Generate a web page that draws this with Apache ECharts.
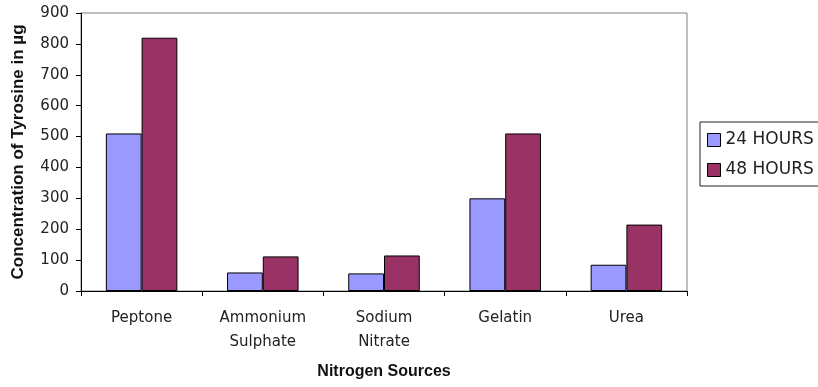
<!DOCTYPE html>
<html>
<head>
<meta charset="utf-8">
<script src="https://cdn.jsdelivr.net/npm/echarts@6/dist/echarts.min.js"></script>
<style>
  html, body { margin: 0; padding: 0; background: #fff; }
  #chart { width: 818px; height: 387px; }
</style>
</head>
<body>
<div id="chart"></div>
<script>
// Tyrosine produced with different nitrogen sources, after 24 h and 48 h
const categories = ['Peptone', 'Ammonium\nSulphate', 'Sodium\nNitrate', 'Gelatin', 'Urea'];
const hours24 = [510, 60, 57, 300, 85];
const hours48 = [820, 112, 115, 510, 215];
const seriesNames = ['24 HOURS', '48 HOURS'];
const yTicks = { min: 0, max: 900, interval: 100 };

const chart = echarts.init(document.getElementById('chart'), null, { renderer: 'canvas' });

const tickFont = { fontFamily: 'DejaVu Sans', fontSize: 15, color: '#222' };

chart.setOption({
  backgroundColor: '#fff',
  animation: false,
  grid: {
    left: 81, right: 131, top: 13, bottom: 96,
    show: true, borderColor: '#808080', borderWidth: 1, backgroundColor: 'transparent'
  },
  legend: {
    orient: 'vertical',
    left: 700, top: 122,
    padding: [9, 12, 7, 7],
    itemGap: 12,
    itemWidth: 13, itemHeight: 13,
    icon: 'rect',
    borderColor: '#222', borderWidth: 1,
    backgroundColor: '#fff',
    itemStyle: { borderColor: '#000', borderWidth: 1 },
    textStyle: { fontFamily: 'DejaVu Sans', fontSize: 17, color: '#222', lineHeight: 18 },
    data: seriesNames
  },
  xAxis: {
    type: 'category',
    data: categories,
    name: 'Nitrogen Sources',
    nameLocation: 'middle',
    nameGap: 73,
    nameTextStyle: { fontFamily: 'Liberation Sans', fontWeight: 'bold', fontSize: 16, color: '#111' },
    axisLine: { lineStyle: { color: '#000', width: 1 } },
    axisTick: { show: true, length: 5, lineStyle: { color: '#000' } },
    axisLabel: Object.assign({ margin: 15, lineHeight: 24, interval: 0 }, tickFont),
    splitLine: { show: false }
  },
  yAxis: {
    type: 'value',
    min: yTicks.min, max: yTicks.max, interval: yTicks.interval,
    name: 'Concentration of Tyrosine in µg',
    nameLocation: 'middle',
    nameGap: 54,
    nameTextStyle: { fontFamily: 'Liberation Sans', fontWeight: 'bold', fontSize: 17, color: '#111' },
    axisLine: { show: true, lineStyle: { color: '#000', width: 1 } },
    axisTick: { show: true, length: 5, lineStyle: { color: '#000' } },
    axisLabel: Object.assign({ margin: 12 }, tickFont),
    splitLine: { show: false }
  },
  series: [
    {
      name: seriesNames[0], type: 'bar', data: hours24,
      barGap: '0%', barCategoryGap: '41%',
      itemStyle: { color: '#9999FF', borderColor: '#000', borderWidth: 1 }
    },
    {
      name: seriesNames[1], type: 'bar', data: hours48,
      barGap: '0%', barCategoryGap: '41%',
      itemStyle: { color: '#993366', borderColor: '#000', borderWidth: 1 }
    }
  ]
});
</script>
</body>
</html>
